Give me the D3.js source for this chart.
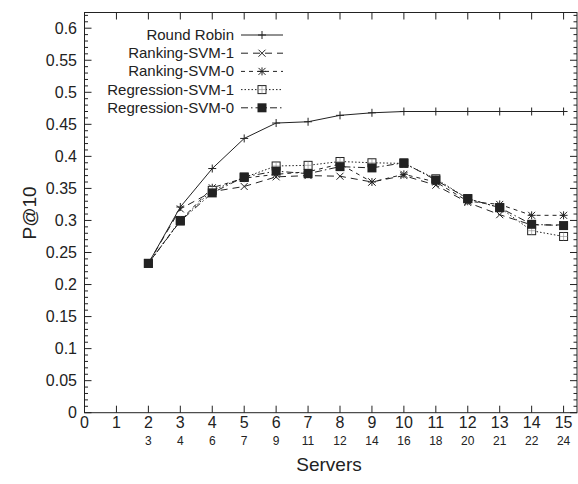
<!DOCTYPE html>
<html>
<head>
<meta charset="utf-8">
<script src="https://cdn.jsdelivr.net/npm/d3@7"></script>
<style>
  body { margin: 0; background: #fff; }
  text { font-family: "Liberation Sans", Arial, sans-serif; fill: #222; }
</style>
</head>
<body>
<script>
// data
var servers = [2, 3, 4, 5, 6, 7, 8, 9, 10, 11, 12, 13, 14, 15];
var subLabels = [3, 4, 6, 7, 9, 11, 12, 14, 16, 18, 20, 21, 22, 24];
var roundRobin = [0.233, 0.321, 0.381, 0.428, 0.452, 0.454, 0.464, 0.468, 0.470, 0.470, 0.470, 0.470, 0.470, 0.470];
var rankingSvm1 = [0.233, 0.318, 0.345, 0.353, 0.368, 0.370, 0.369, 0.360, 0.370, 0.355, 0.328, 0.309, 0.293, 0.293];
var rankingSvm0 = [0.233, 0.300, 0.351, 0.366, 0.372, 0.376, 0.388, 0.360, 0.372, 0.360, 0.330, 0.325, 0.308, 0.308];
var regressionSvm1 = [0.233, 0.300, 0.347, 0.367, 0.385, 0.386, 0.392, 0.390, 0.389, 0.365, 0.334, 0.320, 0.284, 0.275];
var regressionSvm0 = [0.233, 0.299, 0.343, 0.368, 0.377, 0.373, 0.384, 0.382, 0.390, 0.363, 0.334, 0.320, 0.294, 0.292];
var xTicks = d3.range(0, 16);
var yTicks = d3.range(0, 0.601, 0.05);

var series = [
  {name: "Round Robin", values: roundRobin, dash: null, mark: "plus"},
  {name: "Ranking-SVM-1", values: rankingSvm1, dash: "7,5", mark: "cross"},
  {name: "Ranking-SVM-0", values: rankingSvm0, dash: "4,4", mark: "star"},
  {name: "Regression-SVM-1", values: regressionSvm1, dash: "1.5,2", mark: "open"},
  {name: "Regression-SVM-0", values: regressionSvm0, dash: "7,3,1.5,3", mark: "filled"}
];

var width = 578, height = 484;
var plotLeft = 84.5, plotRight = 577, plotTop = 12.5, plotBottom = 412.7;

var svg = d3.select("body").append("svg")
    .attr("width", width)
    .attr("height", height);

var x = d3.scaleLinear().domain([0, 15.42]).range([plotLeft, plotRight]);
var y = d3.scaleLinear().domain([0, 0.6245]).range([plotBottom, plotTop]);

var axes = svg.append("g").attr("stroke", "#222").attr("stroke-width", 1);

// frame
axes.append("rect")
    .attr("x", plotLeft).attr("y", plotTop)
    .attr("width", plotRight - plotLeft).attr("height", plotBottom - plotTop)
    .attr("fill", "none");

// x major ticks, bottom and top
xTicks.forEach(function(t) {
  axes.append("line").attr("x1", x(t)).attr("x2", x(t)).attr("y1", plotBottom).attr("y2", plotBottom - 7);
  axes.append("line").attr("x1", x(t)).attr("x2", x(t)).attr("y1", plotTop).attr("y2", plotTop + 7);
});

// y ticks left and right, minor every 0.01
d3.range(0, 63).forEach(function(i) {
  var v = i / 100;
  var major = i % 5 == 0;
  var len = major ? 7 : 3.5;
  axes.append("line").attr("x1", plotLeft).attr("x2", plotLeft + len).attr("y1", y(v)).attr("y2", y(v));
  axes.append("line").attr("x1", plotRight).attr("x2", plotRight - len).attr("y1", y(v)).attr("y2", y(v));
});

svg.selectAll(".xlab").data(xTicks).enter().append("text")
    .attr("x", function(d) { return x(d); })
    .attr("y", 428)
    .attr("text-anchor", "middle")
    .style("font-size", "16px")
    .text(function(d) { return d; });

svg.selectAll(".sublab").data(servers).enter().append("text")
    .attr("x", function(d) { return x(d); })
    .attr("y", 445)
    .attr("text-anchor", "middle")
    .style("font-size", "12px")
    .text(function(d, i) { return subLabels[i]; });

svg.selectAll(".ylab").data(yTicks).enter().append("text")
    .attr("x", 77)
    .attr("y", function(d) { return y(d) + 5.5; })
    .attr("text-anchor", "end")
    .style("font-size", "16px")
    .text(function(d) { return +d.toFixed(2); });

svg.append("text")
    .attr("x", x(7.5) + 5).attr("y", 471)
    .attr("text-anchor", "middle")
    .style("font-size", "19px")
    .text("Servers");

svg.append("text")
    .attr("transform", "translate(36,213) rotate(-90)")
    .attr("text-anchor", "middle")
    .style("font-size", "19px")
    .text("P@10");

function drawMark(g, type, cx, cy) {
  if (type == "plus") {
    g.append("path").attr("d", "M" + (cx - 4) + "," + cy + "h8M" + cx + "," + (cy - 4) + "v8")
      .attr("stroke", "#222").attr("stroke-width", 1);
  } else if (type == "cross") {
    g.append("path").attr("d", "M" + (cx - 3.5) + "," + (cy - 3.5) + "l7,7M" + (cx - 3.5) + "," + (cy + 3.5) + "l7,-7")
      .attr("stroke", "#222").attr("stroke-width", 1);
  } else if (type == "star") {
    g.append("path").attr("d", "M" + (cx - 3.5) + "," + (cy - 3.5) + "l7,7M" + (cx - 3.5) + "," + (cy + 3.5) + "l7,-7M" + (cx - 4) + "," + cy + "h8M" + cx + "," + (cy - 4) + "v8")
      .attr("stroke", "#222").attr("stroke-width", 1);
  } else if (type == "open") {
    g.append("rect").attr("x", cx - 4).attr("y", cy - 4).attr("width", 8).attr("height", 8)
      .attr("fill", "#fff").attr("stroke", "#222").attr("stroke-width", 1);
    g.append("path").attr("d", "M" + (cx - 4) + "," + cy + "h8M" + cx + "," + (cy - 4) + "v8")
      .attr("stroke", "#888").attr("stroke-width", 0.6);
  } else {
    g.append("rect").attr("x", cx - 4.5).attr("y", cy - 4.5).attr("width", 9).attr("height", 9)
      .attr("fill", "#222");
  }
}

var line = d3.line()
    .x(function(d, i) { return x(servers[i]); })
    .y(function(d) { return y(d); });

series.forEach(function(s) {
  var g = svg.append("g");
  g.append("path")
    .datum(s.values)
    .attr("d", line)
    .attr("fill", "none")
    .attr("stroke", "#222")
    .attr("stroke-width", 1)
    .attr("stroke-dasharray", s.dash);
  s.values.forEach(function(v, i) { drawMark(g, s.mark, x(servers[i]), y(v)); });
});

// legend
var leg = svg.append("g");
series.forEach(function(s, i) {
  var ly = 35 + i * 18.2;
  leg.append("text").attr("x", 234).attr("y", ly + 5)
    .attr("text-anchor", "end").style("font-size", "15px").text(s.name);
  leg.append("line").attr("x1", 241).attr("x2", 283).attr("y1", ly).attr("y2", ly)
    .attr("stroke", "#222").attr("stroke-width", 1).attr("stroke-dasharray", s.dash);
  drawMark(leg, s.mark, 262, ly);
});
</script>
</body>
</html>
